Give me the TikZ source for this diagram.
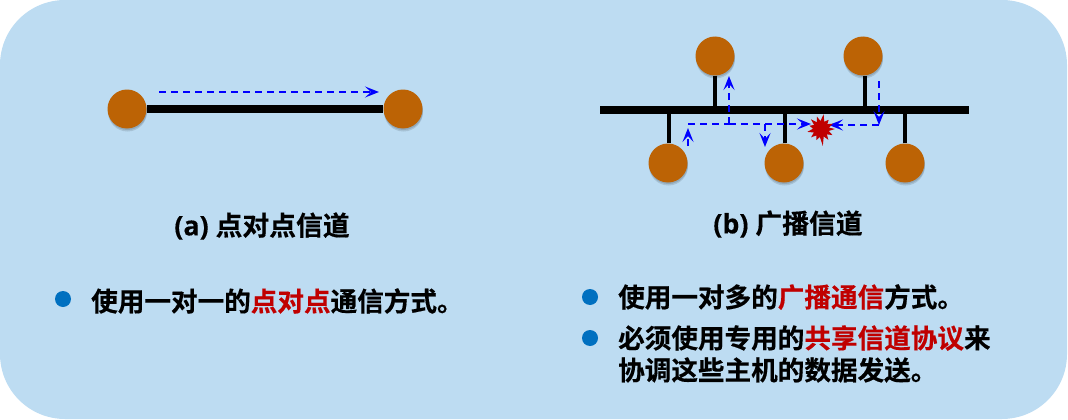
\documentclass[tikz,border=0pt]{standalone}
\usepackage{fontspec}
\setmainfont{Open Sans}[BoldFeatures={FakeBold=0.3}]
\newfontfamily\cjk{Noto Sans CJK SC}[BoldFont={Noto Sans CJK SC Bold},BoldFeatures={FakeBold=0.45}]
\usetikzlibrary{arrows.meta}
\definecolor{panel}{HTML}{BDDCF2}
\definecolor{hostc}{HTML}{BC6305}
\definecolor{redt}{HTML}{C00000}
\definecolor{dot}{HTML}{0070C0}
\pgfdeclarelayer{lines}
\pgfsetlayers{lines,main}
\tikzset{
  host/.style={circle,fill=hostc,minimum size=39pt,inner sep=0pt,
    preaction={fill=black,fill opacity=.12,transform canvas={xshift=.5pt,yshift=-3pt}},
    preaction={fill=black,fill opacity=.12,transform canvas={xshift=.5pt,yshift=-1.5pt}}},
  bus/.style={line width=8pt,black},
  drop/.style={line width=4pt,black},
  signal/.style={blue,line width=1.8pt,dash pattern=on 7pt off 5pt},
  tip/.style={-{Stealth[length=14pt,width=11pt,inset=6pt]}},
  txt/.style={font=\cjk\bfseries\fontsize{26.6}{31}\selectfont,anchor=west,inner sep=0pt,text=black},
  capt/.style={font=\bfseries\fontsize{26.8}{31}\selectfont,inner sep=0pt,text=black},
  bul/.style={circle,fill=dot,minimum size=16pt,inner sep=0pt},
}
\newcommand{\hl}[1]{\textcolor{redt}{#1}}
\begin{document}
\begin{tikzpicture}[x=1pt,y=-1pt]
\useasboundingbox (0,0) rectangle (1068,420);
\begin{pgfonlayer}{lines}
\fill[panel,rounded corners=65pt] (0,0) rectangle (1067,419);
\end{pgfonlayer}
% (a)
\node[host] (a1) at (127,109) {};
\node[host] (a2) at (403,109) {};
\begin{pgfonlayer}{lines}
\draw[bus] (a1) -- (a2);
\end{pgfonlayer}
\coordinate (as) at (159,92);
\coordinate (ae) at (379,92);
\draw[signal,tip] (as) -- (ae);
% (b)
\coordinate (bl) at (600,110);
\coordinate (br) at (969,110);
\node[host] (h1) at (715,56) {};
\node[host] (h2) at (863,56) {};
\node[host] (h3) at (668,163) {};
\node[host] (h4) at (784,163) {};
\node[host] (h5) at (905,163) {};
\coordinate (t1) at (715,110);
\coordinate (t2) at (865,110);
\coordinate (t3) at (669,110);
\coordinate (t4) at (785,110);
\coordinate (t5) at (905,110);
\begin{pgfonlayer}{lines}
\draw[drop] (h1) -- (t1);
\draw[drop] (h2.south -| t2) -- (t2);
\draw[drop] (h3.north -| t3) -- (t3);
\draw[drop] (h4.north -| t4) -- (t4);
\draw[drop] (h5) -- (t5);
\draw[bus] (bl) -- (br);
\end{pgfonlayer}
% signals
\coordinate (s0) at (688,146);
\coordinate (s0t) at (688,128);
\coordinate (s1) at (688,124);
\coordinate (j1) at (729,124);
\coordinate (s2) at (729,76);
\coordinate (j2) at (765,124);
\coordinate (s3) at (765,147);
\coordinate (s4) at (811,124);
\coordinate (r0) at (879,81);
\coordinate (r1) at (879,125);
\coordinate (r2) at (829,125);
\draw[signal,tip] (s0) -- (s0t);
\draw[signal] (s1) -- (j1);
\draw[signal,tip] (j1) -- (s2);
\draw[signal,tip] (j1) -- (s4);
\draw[signal,tip] (j2) -- (s3);
\draw[signal,tip] (r0) -- (r1);
\draw[signal,tip] (r1) -- (r2);
% star
\begin{scope}[shift={(821,129)}]
\fill[redt] (0:14) \foreach \a/\r in {14/8,28/13,42/8,56/13,70/8,84/17,98/8,112/12,126/8,140/13,154/8,168/14,182/8,196/12,210/8,224/14,238/8,252/13,266/8,280/15,294/8,310/12,322/8,336/13,350/8} { -- (\a:\r) } -- cycle;
\end{scope}
% text
\node[capt] (ca) at (262,226) {(a)\ {\cjk 点对点信道}};
\node[capt] (cb) at (788,224) {(b)\ {\cjk 广播信道}};
\node[bul] (d1) at (63,299) {};
\node[txt] (x1) at (91,301) {使用一对一的\hl{点对点}通信方式。};
\node[bul] (d2) at (590,297) {};
\node[txt] (x2) at (618,297) {使用一对多的\hl{广播通信}方式。};
\node[bul] (d3) at (590,338) {};
\node[txt] (x3) at (618,338) {必须使用专用的\hl{共享信道协议}来};
\node[txt] (x4) at (618,370) {协调这些主机的数据发送。};
\end{tikzpicture}
\end{document}
